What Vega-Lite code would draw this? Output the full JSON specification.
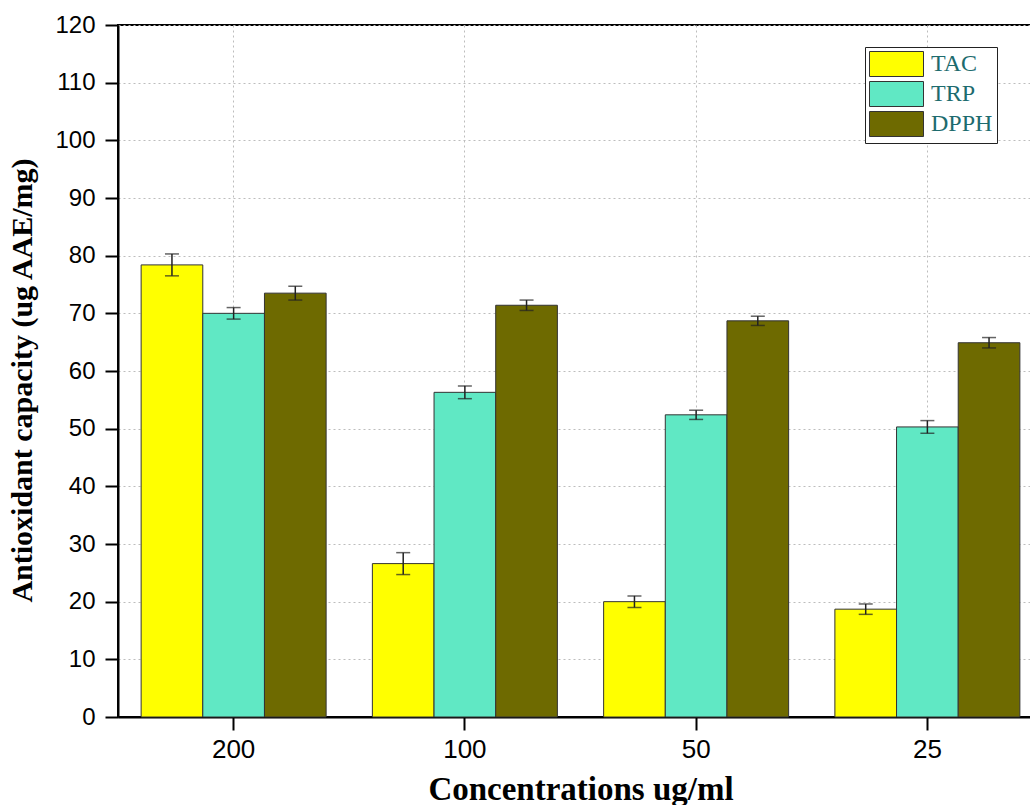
{
  "$schema": "https://vega.github.io/schema/vega-lite/v6.json",
  "width": 925,
  "height": 692,
  "autosize": {"type": "none"},
  "padding": {"left": 118, "top": 25, "right": 0, "bottom": 88},
  "background": "white",
  "config": {
    "view": {"stroke": "black", "strokeWidth": 2},
    "axis": {
      "labelFont": "Liberation Sans",
      "labelColor": "black",
      "titleFont": "Liberation Serif",
      "titleFontWeight": "bold",
      "titleColor": "black",
      "domainColor": "black",
      "domainWidth": 2,
      "tickColor": "black",
      "tickWidth": 2,
      "tickSize": 13,
      "gridColor": "#bdbdbd",
      "gridDash": [2, 3],
      "gridWidth": 1
    }
  },
  "data": {
    "values": [
      {"conc": "200", "series": "TAC", "value": 78.4, "lo": 76.5, "hi": 80.3},
      {"conc": "200", "series": "TRP", "value": 70.0, "lo": 69.0, "hi": 71.0},
      {"conc": "200", "series": "DPPH", "value": 73.5, "lo": 72.3, "hi": 74.7},
      {"conc": "100", "series": "TAC", "value": 26.6, "lo": 24.7, "hi": 28.5},
      {"conc": "100", "series": "TRP", "value": 56.3, "lo": 55.2, "hi": 57.4},
      {"conc": "100", "series": "DPPH", "value": 71.4, "lo": 70.5, "hi": 72.3},
      {"conc": "50", "series": "TAC", "value": 20.0, "lo": 19.0, "hi": 21.0},
      {"conc": "50", "series": "TRP", "value": 52.4, "lo": 51.6, "hi": 53.2},
      {"conc": "50", "series": "DPPH", "value": 68.7, "lo": 67.9, "hi": 69.5},
      {"conc": "25", "series": "TAC", "value": 18.7, "lo": 17.8, "hi": 19.6},
      {"conc": "25", "series": "TRP", "value": 50.3, "lo": 49.2, "hi": 51.4},
      {"conc": "25", "series": "DPPH", "value": 64.9, "lo": 64.0, "hi": 65.8}
    ]
  },
  "encoding": {
    "x": {
      "field": "conc",
      "type": "nominal",
      "sort": ["200", "100", "50", "25"],
      "scale": {"paddingInner": 0.2, "paddingOuter": 0.1},
      "axis": {
        "title": "Concentrations ug/ml",
        "titleFontSize": 33,
        "labelFontSize": 26,
        "labelAngle": 0,
        "labelPadding": 6,
        "titlePadding": 11,
        "grid": true
      }
    },
    "xOffset": {
      "field": "series",
      "type": "nominal",
      "sort": ["TAC", "TRP", "DPPH"],
      "scale": {"paddingInner": 0, "paddingOuter": 0}
    }
  },
  "layer": [
    {
      "mark": {"type": "bar", "stroke": "#333333", "strokeWidth": 1},
      "encoding": {
        "y": {
          "field": "value",
          "type": "quantitative",
          "scale": {"domain": [0, 120], "nice": false},
          "axis": {
            "title": "Antioxidant capacity (ug AAE/mg)",
            "titleFontSize": 30,
            "titleY": 355,
            "labelFontSize": 24,
            "values": [0, 10, 20, 30, 40, 50, 60, 70, 80, 90, 100, 110, 120],
            "labelPadding": 10,
            "titlePadding": 17,
            "grid": true
          }
        },
        "fill": {
          "field": "series",
          "type": "nominal",
          "sort": ["TAC", "TRP", "DPPH"],
          "scale": {"domain": ["TAC", "TRP", "DPPH"], "range": ["#ffff00", "#60e8c4", "#6e6a00"]},
          "legend": {
            "title": null,
            "orient": "none",
            "legendX": 747,
            "legendY": 22,
            "fillColor": "white",
            "strokeColor": "#222222",
            "padding": 4,
            "symbolType": "M-1,-1H3.32V1H-1Z",
            "symbolSize": 625,
            "symbolStrokeColor": "#333333",
            "symbolStrokeWidth": 1,
            "symbolOpacity": 1,
            "rowPadding": 0,
            "labelOffset": 36,
            "labelFont": "Liberation Serif",
            "labelFontSize": 24,
            "labelColor": "#1d6b6e",
            "labelLimit": 200
          }
        }
      }
    },
    {
      "mark": {"type": "rule", "color": "#222222", "strokeWidth": 1.5},
      "encoding": {
        "y": {"field": "lo", "type": "quantitative"},
        "y2": {"field": "hi"}
      }
    },
    {
      "mark": {"type": "tick", "color": "#222222", "thickness": 1.5, "size": 14, "orient": "horizontal"},
      "encoding": {
        "y": {"field": "lo", "type": "quantitative"}
      }
    },
    {
      "mark": {"type": "tick", "color": "#222222", "thickness": 1.5, "size": 14, "orient": "horizontal"},
      "encoding": {
        "y": {"field": "hi", "type": "quantitative"}
      }
    }
  ]
}
